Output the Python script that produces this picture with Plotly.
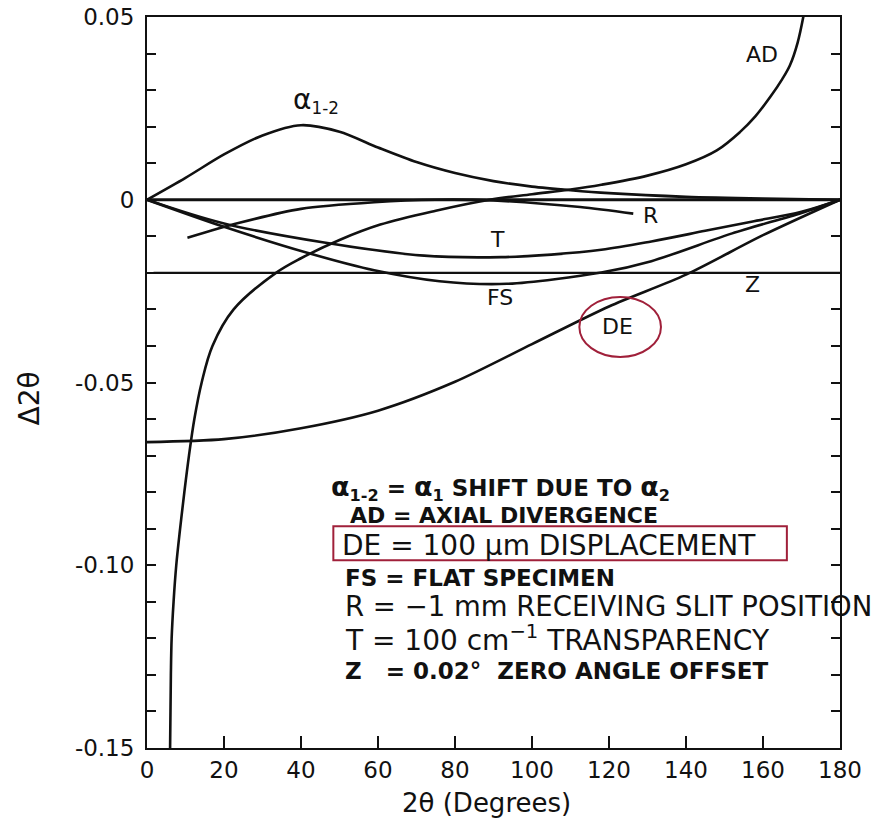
import plotly.graph_objects as go

# ---------------- data ----------------
a12_x = [0, 10, 20, 30, 40, 50, 60, 70, 80, 90, 100, 110, 120, 140, 160, 180]
a12_y = [0, 0.0060, 0.0124, 0.0176, 0.0204, 0.0186, 0.0143, 0.0103, 0.0073, 0.0051, 0.0036,
         0.0026, 0.0018, 0.0008, 0.0003, 0]

ad_x = [6.0, 6.2, 6.4, 6.9, 7.6, 8.6, 9.7, 10.9, 12.3, 14.2, 17.0, 22.5, 33.5, 40, 50, 60.6,
        75, 89, 100, 110, 118, 130, 140, 148, 154, 158, 162, 165, 167, 169, 171]
ad_y = [-0.150, -0.130, -0.120, -0.110, -0.100, -0.090, -0.080, -0.070, -0.060, -0.050, -0.040,
        -0.030, -0.020, -0.016, -0.011, -0.0068, -0.0030, 0.0, 0.0015, 0.0028, 0.0041, 0.0066,
        0.0097, 0.0135, 0.0185, 0.0228, 0.0283, 0.0330, 0.0368, 0.0430, 0.0530]

de_x = [0, 20, 40, 60, 80, 100, 120, 140, 160, 180]
de_y = [-0.0663, -0.0655, -0.0625, -0.0577, -0.0498, -0.0395, -0.0292, -0.0205, -0.0097, 0]

fs_x = [0, 20, 41.6, 59, 76, 93.5, 118, 131, 152, 170, 180]
fs_y = [0, -0.0074, -0.0145, -0.0193, -0.0223, -0.0230, -0.0199, -0.0168, -0.0092, -0.0036, 0]

t_x = [0, 20, 46, 72, 92, 105, 118, 131, 145, 157, 170, 180]
t_y = [0, -0.0065, -0.0117, -0.0153, -0.0157, -0.0150, -0.0137, -0.0114, -0.0085, -0.0060,
       -0.0033, 0]

r_x = [10.5, 24, 40, 59, 75, 90, 112.5, 126.3]
r_y = [-0.0104, -0.0063, -0.0025, -0.0007, 0.0, -0.0002, -0.0020, -0.0038]

z_x = [1.7, 180]
z_y = [-0.02, -0.02]

zero_x = [0, 180]
zero_y = [0, 0]

x_tickvals = [0, 20, 40, 60, 80, 100, 120, 140, 160, 180]
x_ticktext = ["0", "20", "40", "60", "80", "100", "120", "140", "160", "180"]
y_tickvals = [0.05, 0.04, 0.03, 0.02, 0.01, 0, -0.01, -0.02, -0.03, -0.04, -0.05, -0.06, -0.07,
              -0.08, -0.09, -0.10, -0.11, -0.12, -0.13, -0.14, -0.15]
y_ticktext = ["0.05", "", "", "", "", "0", "", "", "", "", "-0.05", "", "", "", "", "-0.10",
              "", "", "", "", "-0.15"]

ALPHA = '<span style="font-size:27px">α</span>'
legend_lines = [
    f"{ALPHA}<sub>1-2</sub> = {ALPHA}<sub>1</sub> SHIFT DUE TO {ALPHA}<sub>2</sub>",
    "AD = AXIAL DIVERGENCE",
    "DE = 100 μm DISPLACEMENT",
    "FS = FLAT SPECIMEN",
    "R = −1 mm RECEIVING SLIT POSITION",
    "T = 100 cm<sup>−1</sup> TRANSPARENCY",
    "Z\u00a0\u00a0\u00a0= 0.02°\u00a0\u00a0ZERO ANGLE OFFSET",
]

# ---------------- figure ----------------
FONT = "DejaVu Sans"
INK = "#111111"
RED = "#A0203A"

fig = go.Figure()

def add_curve(x, y, shape="spline", width=2.6, smoothing=0.8):
    fig.add_trace(go.Scatter(x=x, y=y, mode="lines", showlegend=False, hoverinfo="skip",
                             line=dict(color=INK, width=width, shape=shape,
                                       smoothing=smoothing if shape == "spline" else None)))

add_curve(zero_x, zero_y, shape="linear", width=3.0)
add_curve(z_x, z_y, shape="linear", width=2.4)
add_curve(a12_x, a12_y)
add_curve(ad_x, ad_y, smoothing=1.0)
add_curve(de_x, de_y)
add_curve(fs_x, fs_y)
add_curve(t_x, t_y, smoothing=1.0)
add_curve(r_x, r_y)

ann = []
curve_labels = [
    ("AD", 159.7, 0.0397, "center", 22),
    ('<span style="font-size:28px">α</span><sub>1-2</sub>', 37.4, 0.0272, "left", 24),
    ("R", 130.8, -0.0044, "center", 22),
    ("T", 91.0, -0.0110, "center", 22),
    ("FS", 91.7, -0.0268, "center", 22),
    ("Z", 157.4, -0.0233, "center", 22),
    ("DE", 122.1, -0.0348, "center", 22),
]
for txt, x, y, xa, size in curve_labels:
    ann.append(dict(text=txt, x=x, y=y, xref="x", yref="y", showarrow=False,
                    xanchor=xa, yanchor="middle", font=dict(family=FONT, size=size, color=INK)))

legend_pos = [
    (47.2, -0.0789, 23, True),
    (52.3, -0.0863, 22, True),
    (50.2, -0.0945, 28, False),
    (51.0, -0.1036, 23, True),
    (51.0, -0.1112, 27.5, False),
    (51.0, -0.1200, 28, False),
    (51.0, -0.1288, 23, True),
]
for txt, (x, y, size, bold) in zip(legend_lines, legend_pos):
    ann.append(dict(text=f"<b>{txt}</b>" if bold else txt, x=x, y=y, xref="x", yref="y",
                    showarrow=False, xanchor="left", yanchor="middle",
                    font=dict(family=FONT, size=size, color=INK)))

# axis titles
ann.append(dict(text="Δ2θ", x=-0.169, y=0.478, xref="paper", yref="paper", showarrow=False,
                textangle=-90, xanchor="center", yanchor="middle",
                font=dict(family=FONT, size=28, color=INK)))
ann.append(dict(text="2θ (Degrees)", x=0.49, y=-0.075, xref="paper", yref="paper",
                showarrow=False, xanchor="center", yanchor="middle",
                font=dict(family=FONT, size=26, color=INK)))

shapes = [
    dict(type="rect", xref="x", yref="y", x0=48.4, x1=166.2, y0=-0.0986, y1=-0.0893,
         line=dict(color=RED, width=2)),
    dict(type="circle", xref="x", yref="y", x0=112.3, x1=133.5, y0=-0.0430, y1=-0.0266,
         line=dict(color=RED, width=2)),
]

fig.update_layout(
    width=874, height=819,
    margin=dict(l=147, r=34, t=17, b=71, autoexpand=False),
    paper_bgcolor="white", plot_bgcolor="white",
    showlegend=False,
    annotations=ann, shapes=shapes,
    font=dict(family=FONT, color=INK),
    xaxis=dict(range=[0, 180], tickmode="array", tickvals=x_tickvals, ticktext=x_ticktext,
               ticks="inside", ticklen=12, tickwidth=2, tickcolor=INK,
               showline=True, linecolor=INK, linewidth=2, mirror=True,
               showgrid=False, zeroline=False, tickfont=dict(family=FONT, size=23, color=INK)),
    yaxis=dict(range=[-0.15, 0.05], tickmode="array", tickvals=y_tickvals, ticktext=y_ticktext,
               ticks="inside", ticklen=9, tickwidth=2, tickcolor=INK,
               showline=True, linecolor=INK, linewidth=2, mirror="ticks",
               showgrid=False, zeroline=False, ticklabelstandoff=6,
               tickfont=dict(family=FONT, size=23, color=INK)),
)

fig.write_html("out.html")
